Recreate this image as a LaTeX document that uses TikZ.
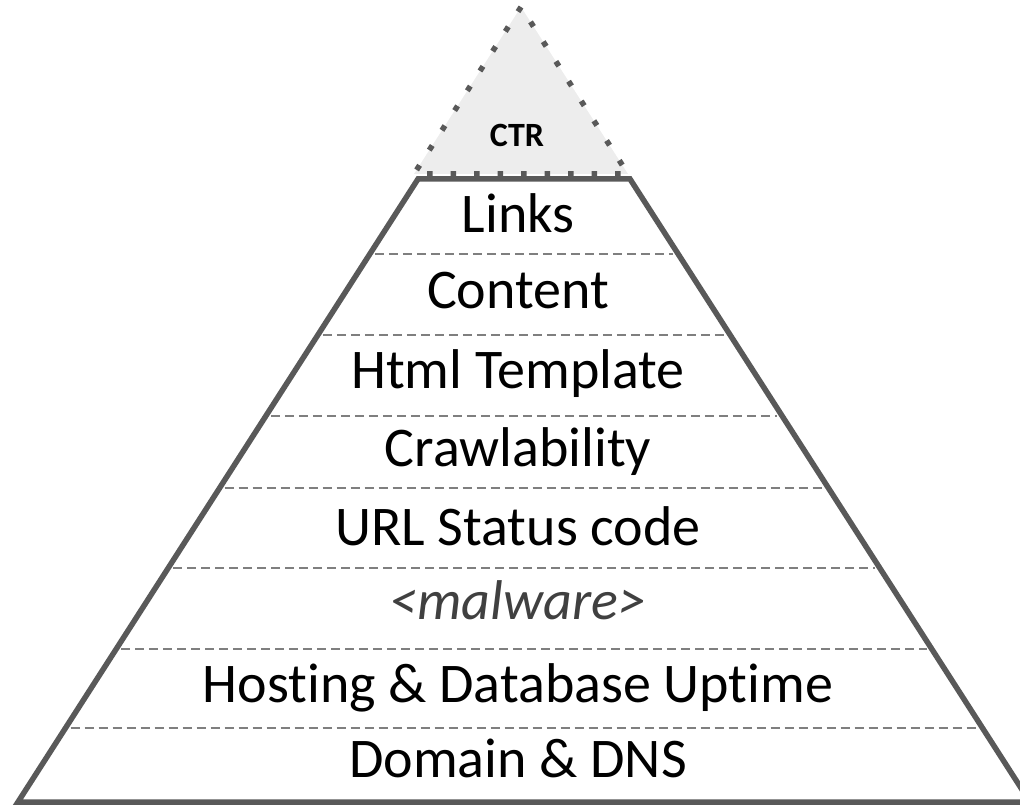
\documentclass[tikz,border=0pt]{standalone}
\usepackage{fontspec}
\setmainfont[Ligatures=NoCommon]{Carlito}
\definecolor{edgegrey}{HTML}{595959}
\definecolor{sepgrey}{HTML}{7F7F7F}
\definecolor{ctrfill}{HTML}{EDEDED}
\definecolor{maltext}{HTML}{404040}
\begin{document}
\begin{tikzpicture}[x=1pt,y=-1pt,
  level/.style={anchor=base,inner sep=0pt,font=\fontsize{56}{62}\selectfont,text=black},
  sepline/.style={draw=sepgrey,line width=1.6pt,dash pattern=on 9pt off 5pt},
  outline/.style={draw=edgegrey,line width=5.5pt,line join=miter},
  ctrtri/.style={fill=ctrfill,draw=edgegrey,line width=5.5pt,dash pattern=on 5.5pt off 18pt,line cap=butt}]
\useasboundingbox (0,0) rectangle (1020,805);
\clip (0,0) rectangle (1020,805);
% CTR triangle
\coordinate (apex) at (521,7);
\coordinate (tl) at (414,174);
\coordinate (tr) at (628,174);
\path[ctrtri] (apex) -- (tl) -- (tr) -- cycle;
% pyramid trapezoid
\coordinate (pl) at (418,179);
\coordinate (pr) at (630,179);
\coordinate (bl) at (18,802);
\coordinate (br) at (1030,802);
\draw[outline] (pl) -- (pr) -- (br) -- (bl) -- cycle;
% separators
\foreach \y in {254,335,416,488,568,649,728}{
  \coordinate (sl\y) at ({418-0.642*(\y-179)+5},\y);
  \coordinate (sr\y) at ({630+0.642*(\y-179)-5},\y);
  \draw[sepline] (sl\y) -- (sr\y);
}
% labels
\node[anchor=base,inner sep=0pt,font=\fontsize{34}{40}\selectfont\bfseries] (ctr) at (517,147) {CTR};
\node[level] (links) at (518,233) {Links};
\node[level] (content) at (518,308) {Content};
\node[level] (html) at (518,388) {Html Template};
\node[level] (crawl) at (518,466) {Crawlability};
\node[level] (url) at (518,545) {URL Status code};
\node[level,text=maltext,font=\fontsize{56}{62}\selectfont\itshape] (malware) at (518,619) {<malware>};
\node[level] (hosting) at (518,702) {Hosting \& Database Uptime};
\node[level] (domain) at (518,777) {Domain \& DNS};
\end{tikzpicture}
\end{document}
